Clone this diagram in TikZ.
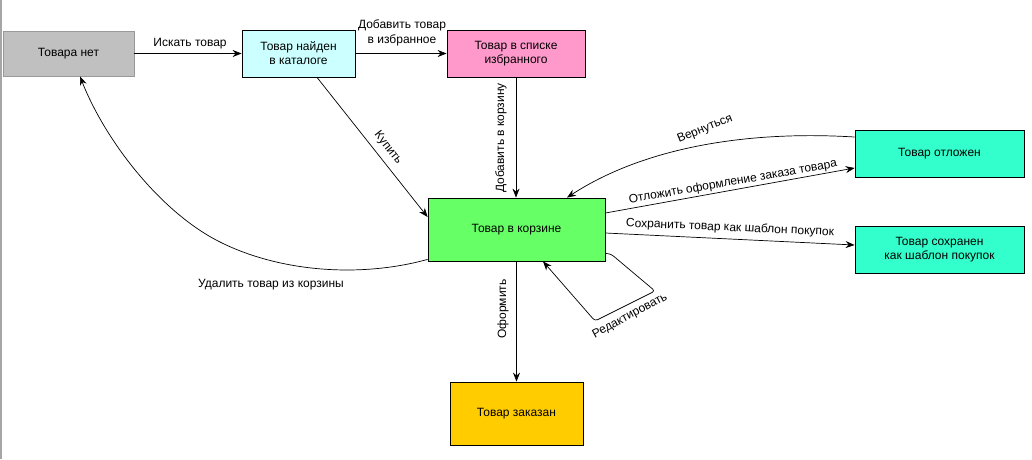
\documentclass[tikz,border=0pt]{standalone}
\usepackage{fontspec}
\setmainfont{Liberation Sans}
\usetikzlibrary{arrows.meta,calc}
\definecolor{cNone}{HTML}{C0C0C0}
\definecolor{cFound}{HTML}{CCFFFF}
\definecolor{cFav}{HTML}{FF99CC}
\definecolor{cCart}{HTML}{66FF66}
\definecolor{cTeal}{HTML}{33FFCC}
\definecolor{cOrder}{HTML}{FFCC00}
\begin{document}
\begin{tikzpicture}[x=1pt,y=-1pt,
  box/.style={draw=black, line width=0.8pt, inner sep=0pt, align=center,
    font=\fontsize{12}{14}\selectfont},
  conn/.style={line width=0.7pt, -{Stealth[length=9pt,width=7pt,inset=3pt]}},
  lbl/.style={inner sep=0pt, align=center, font=\fontsize{12}{14}\selectfont}]
\useasboundingbox (0,0) rectangle (1032,459);
\fill[white] (0,0) rectangle (1032,459);
\draw[black!35, line width=1.5pt] (0.75,0) -- (0.75,459);

% nodes
\node[box, draw=black!40, fill=cNone, minimum width=131pt, minimum height=45pt] (none) at (68.5,53.5) {Товара нет};
\node[box, fill=cFound, minimum width=113pt, minimum height=47pt] (found) at (298.5,53.5) {Товар найден\\в каталоге};
\node[box, fill=cFav, minimum width=138pt, minimum height=47pt] (fav) at (516,53.5) {Товар в списке\\избранного};
\node[box, fill=cCart, minimum width=177pt, minimum height=63pt] (cart) at (516.5,229.5) {Товар в корзине};
\node[box, fill=cTeal, minimum width=169pt, minimum height=47pt] (postponed) at (939.5,153.5) {Товар отложен};
\node[box, fill=cTeal, minimum width=169pt, minimum height=47pt] (saved) at (939.5,249.5) {Товар сохранен\\как шаблон покупок};
\node[box, fill=cOrder, minimum width=133pt, minimum height=63pt] (ordered) at (516.5,413.5) {Товар заказан};

% connectors
\draw[conn] (none.east) -- (found.west);
\draw[conn] (found.east) -- (fav.west);
\draw[conn] ($(found.south)+(18.5,0)$) -- ($(cart.west)+(0,-12.5)$);
\draw[conn] (fav.south) -- (fav.south |- cart.north);
\draw[conn] (cart.south) -- (ordered.north);
\draw[conn] ($(postponed.west)+(0,-16.5)$) .. controls (740,130) and (640,150) .. ($(cart.north)+(50.5,0)$);
\draw[conn] ($(cart.east)+(0,-16.5)$) -- ($(postponed.west)+(0,14.5)$);
\draw[conn] ($(cart.east)+(0,3.5)$) -- ($(saved.west)+(0,-4.5)$);
\draw[conn, rounded corners=3pt] ($(cart.south east)+(0,-8)$) -- (611,254) -- (655,291) -- (595,321) -- ($(cart.south)+(26.5,0)$);
\draw[conn] ($(cart.south west)+(0,-2)$) .. controls (360,278) and (280,272) .. (220,242)
  .. controls (160,212) and (105,140) .. ($(none.south)+(11.5,0)$);

% labels
\node[lbl] (l1) at (190,44) {Искать товар};
\node[lbl, font=\fontsize{12}{15}\selectfont] (l2) at (402,33) {Добавить товар\\в избранное};
\node[lbl, rotate=-52] (l3) at (388,148) {Купить};
\node[lbl, rotate=90] (l4) at (501,138) {Добавить в корзину};
\node[lbl, rotate=90] (l5) at (503,309) {Оформить};
\node[lbl, rotate=22] (l6) at (705,129) {Вернуться};
\node[lbl, rotate=10] (l7) at (733,182) {Отложить оформление заказа товара};
\node[lbl, rotate=-2.5] (l8) at (730,228) {Сохранить товар как шаблон покупок};
\node[lbl, rotate=28] (l9) at (630,316) {Редактировать};
\node[lbl] (l10) at (271,285) {Удалить товар из корзины};
\end{tikzpicture}
\end{document}
